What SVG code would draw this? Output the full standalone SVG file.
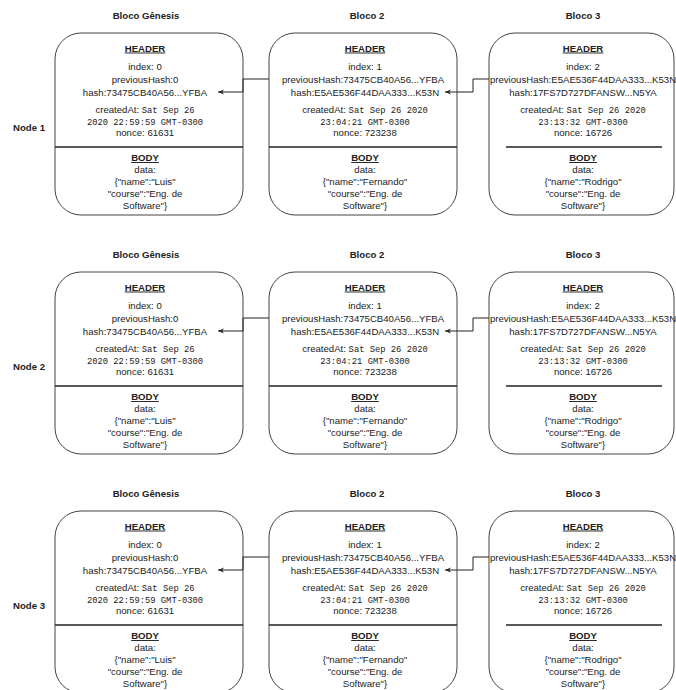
<svg xmlns="http://www.w3.org/2000/svg" width="676" height="690" viewBox="0 0 676 690">
<style>
text{font-family:"Liberation Sans",Arial,sans-serif;font-size:9.6px;fill:#222;text-anchor:middle}
.b{font-weight:bold}
.u{font-weight:bold;text-decoration:underline}
.m{font-family:"Liberation Mono","DejaVu Sans Mono",monospace;font-size:8.8px}
.box{fill:#fff;stroke:#444;stroke-width:1}
.div{stroke:#222;stroke-width:1.4;fill:none}
.con{stroke:#222;stroke-width:1;fill:none}
</style>
<defs>
<marker id="arr" viewBox="0 0 10 10" refX="10" refY="5" markerWidth="6" markerHeight="6" orient="auto" markerUnits="userSpaceOnUse">
<path d="M0,1 L10,5 L0,9 L3,5 z" fill="#222"/>
</marker>
</defs>
<rect width="676" height="690" fill="#fff"/>

<!-- Row 1 -->
<g id="row1">
<text class="b" x="29" y="130.5">Node 1</text>
<text class="b" x="146" y="19">Bloco Gênesis</text>
<text class="b" x="367" y="19">Bloco 2</text>
<text class="b" x="583" y="19">Bloco 3</text>
<g id="n1-genesis">
<rect class="box" x="55" y="33" width="188" height="182" rx="26"/>
<line class="div" x1="55" y1="147" x2="243" y2="147"/>
<text class="u" x="145" y="51.5">HEADER</text>
<text x="145" y="70">index: 0</text>
<text x="145" y="83">previousHash:0</text>
<text x="145" y="96">hash:73475CB40A56...YFBA</text>
<text x="145" y="113">createdAt: <tspan class="m">Sat Sep 26</tspan></text>
<text class="m" x="145" y="124.5">2020 22:59:59 GMT-0300</text>
<text x="145" y="136">nonce: 61631</text>
<text class="u" x="145" y="161">BODY</text>
<text x="145" y="172.5">data:</text>
<text x="145" y="184.5">{"name":"Luis"</text>
<text x="145" y="196.5">"course":"Eng. de</text>
<text x="145" y="208.5">Software"}</text>
</g>
<g id="n1-bloco2">
<rect class="box" x="269" y="33" width="188" height="182" rx="26"/>
<line class="div" x1="269" y1="147" x2="457" y2="147"/>
<text class="u" x="365" y="51.5">HEADER</text>
<text x="365" y="70">index: 1</text>
<text x="363" y="83">previousHash:73475CB40A56...YFBA</text>
<text x="365" y="96">hash:E5AE536F44DAA333...K53N</text>
<text x="365" y="113">createdAt: <tspan class="m">Sat Sep 26 2020</tspan></text>
<text class="m" x="365" y="124.5">23:04:21 GMT-0300</text>
<text x="365" y="136">nonce: 723238</text>
<text class="u" x="365" y="161">BODY</text>
<text x="365" y="172.5">data:</text>
<text x="365" y="184.5">{"name":"Fernando"</text>
<text x="365" y="196.5">"course":"Eng. de</text>
<text x="365" y="208.5">Software"}</text>
</g>
<g id="n1-bloco3">
<rect class="box" x="489" y="33" width="185" height="182" rx="26"/>
<line class="div" x1="506" y1="147" x2="662" y2="147"/>
<text class="u" x="583" y="51.5">HEADER</text>
<text x="583" y="70">index: 2</text>
<text x="583" y="83">previousHash:E5AE536F44DAA333...K53N</text>
<text x="583" y="96">hash:17FS7D727DFANSW...N5YA</text>
<text x="583" y="113">createdAt: <tspan class="m">Sat Sep 26 2020</tspan></text>
<text class="m" x="583" y="124.5">23:13:32 GMT-0300</text>
<text x="583" y="136">nonce: 16726</text>
<text class="u" x="583" y="161">BODY</text>
<text x="583" y="172.5">data:</text>
<text x="583" y="184.5">{"name":"Rodrigo"</text>
<text x="583" y="196.5">"course":"Eng. de</text>
<text x="583" y="208.5">Software"}</text>
</g>
<g id="n1-connectors">
<path class="con" d="M269,79 H243 V92 H218" marker-end="url(#arr)"/>
<path class="con" d="M489,79 H473 V92 H445" marker-end="url(#arr)"/>
</g>
</g>

<!-- Row 2 -->
<g id="row2" transform="translate(0,239)">
<text class="b" x="29" y="130.5">Node 2</text>
<text class="b" x="146" y="19">Bloco Gênesis</text>
<text class="b" x="367" y="19">Bloco 2</text>
<text class="b" x="583" y="19">Bloco 3</text>
<g id="n2-genesis">
<rect class="box" x="55" y="33" width="188" height="182" rx="26"/>
<line class="div" x1="55" y1="147" x2="243" y2="147"/>
<text class="u" x="145" y="51.5">HEADER</text>
<text x="145" y="70">index: 0</text>
<text x="145" y="83">previousHash:0</text>
<text x="145" y="96">hash:73475CB40A56...YFBA</text>
<text x="145" y="113">createdAt: <tspan class="m">Sat Sep 26</tspan></text>
<text class="m" x="145" y="124.5">2020 22:59:59 GMT-0300</text>
<text x="145" y="136">nonce: 61631</text>
<text class="u" x="145" y="161">BODY</text>
<text x="145" y="172.5">data:</text>
<text x="145" y="184.5">{"name":"Luis"</text>
<text x="145" y="196.5">"course":"Eng. de</text>
<text x="145" y="208.5">Software"}</text>
</g>
<g id="n2-bloco2">
<rect class="box" x="269" y="33" width="188" height="182" rx="26"/>
<line class="div" x1="269" y1="147" x2="457" y2="147"/>
<text class="u" x="365" y="51.5">HEADER</text>
<text x="365" y="70">index: 1</text>
<text x="363" y="83">previousHash:73475CB40A56...YFBA</text>
<text x="365" y="96">hash:E5AE536F44DAA333...K53N</text>
<text x="365" y="113">createdAt: <tspan class="m">Sat Sep 26 2020</tspan></text>
<text class="m" x="365" y="124.5">23:04:21 GMT-0300</text>
<text x="365" y="136">nonce: 723238</text>
<text class="u" x="365" y="161">BODY</text>
<text x="365" y="172.5">data:</text>
<text x="365" y="184.5">{"name":"Fernando"</text>
<text x="365" y="196.5">"course":"Eng. de</text>
<text x="365" y="208.5">Software"}</text>
</g>
<g id="n2-bloco3">
<rect class="box" x="489" y="33" width="185" height="182" rx="26"/>
<line class="div" x1="506" y1="147" x2="662" y2="147"/>
<text class="u" x="583" y="51.5">HEADER</text>
<text x="583" y="70">index: 2</text>
<text x="583" y="83">previousHash:E5AE536F44DAA333...K53N</text>
<text x="583" y="96">hash:17FS7D727DFANSW...N5YA</text>
<text x="583" y="113">createdAt: <tspan class="m">Sat Sep 26 2020</tspan></text>
<text class="m" x="583" y="124.5">23:13:32 GMT-0300</text>
<text x="583" y="136">nonce: 16726</text>
<text class="u" x="583" y="161">BODY</text>
<text x="583" y="172.5">data:</text>
<text x="583" y="184.5">{"name":"Rodrigo"</text>
<text x="583" y="196.5">"course":"Eng. de</text>
<text x="583" y="208.5">Software"}</text>
</g>
<g id="n2-connectors">
<path class="con" d="M269,79 H243 V92 H218" marker-end="url(#arr)"/>
<path class="con" d="M489,79 H473 V92 H445" marker-end="url(#arr)"/>
</g>
</g>

<!-- Row 3 -->
<g id="row3" transform="translate(0,478)">
<text class="b" x="29" y="130.5">Node 3</text>
<text class="b" x="146" y="19">Bloco Gênesis</text>
<text class="b" x="367" y="19">Bloco 2</text>
<text class="b" x="583" y="19">Bloco 3</text>
<g id="n3-genesis">
<rect class="box" x="55" y="33" width="188" height="182" rx="26"/>
<line class="div" x1="55" y1="147" x2="243" y2="147"/>
<text class="u" x="145" y="51.5">HEADER</text>
<text x="145" y="70">index: 0</text>
<text x="145" y="83">previousHash:0</text>
<text x="145" y="96">hash:73475CB40A56...YFBA</text>
<text x="145" y="113">createdAt: <tspan class="m">Sat Sep 26</tspan></text>
<text class="m" x="145" y="124.5">2020 22:59:59 GMT-0300</text>
<text x="145" y="136">nonce: 61631</text>
<text class="u" x="145" y="161">BODY</text>
<text x="145" y="172.5">data:</text>
<text x="145" y="184.5">{"name":"Luis"</text>
<text x="145" y="196.5">"course":"Eng. de</text>
<text x="145" y="208.5">Software"}</text>
</g>
<g id="n3-bloco2">
<rect class="box" x="269" y="33" width="188" height="182" rx="26"/>
<line class="div" x1="269" y1="147" x2="457" y2="147"/>
<text class="u" x="365" y="51.5">HEADER</text>
<text x="365" y="70">index: 1</text>
<text x="363" y="83">previousHash:73475CB40A56...YFBA</text>
<text x="365" y="96">hash:E5AE536F44DAA333...K53N</text>
<text x="365" y="113">createdAt: <tspan class="m">Sat Sep 26 2020</tspan></text>
<text class="m" x="365" y="124.5">23:04:21 GMT-0300</text>
<text x="365" y="136">nonce: 723238</text>
<text class="u" x="365" y="161">BODY</text>
<text x="365" y="172.5">data:</text>
<text x="365" y="184.5">{"name":"Fernando"</text>
<text x="365" y="196.5">"course":"Eng. de</text>
<text x="365" y="208.5">Software"}</text>
</g>
<g id="n3-bloco3">
<rect class="box" x="489" y="33" width="185" height="182" rx="26"/>
<line class="div" x1="506" y1="147" x2="662" y2="147"/>
<text class="u" x="583" y="51.5">HEADER</text>
<text x="583" y="70">index: 2</text>
<text x="583" y="83">previousHash:E5AE536F44DAA333...K53N</text>
<text x="583" y="96">hash:17FS7D727DFANSW...N5YA</text>
<text x="583" y="113">createdAt: <tspan class="m">Sat Sep 26 2020</tspan></text>
<text class="m" x="583" y="124.5">23:13:32 GMT-0300</text>
<text x="583" y="136">nonce: 16726</text>
<text class="u" x="583" y="161">BODY</text>
<text x="583" y="172.5">data:</text>
<text x="583" y="184.5">{"name":"Rodrigo"</text>
<text x="583" y="196.5">"course":"Eng. de</text>
<text x="583" y="208.5">Software"}</text>
</g>
<g id="n3-connectors">
<path class="con" d="M269,79 H243 V92 H218" marker-end="url(#arr)"/>
<path class="con" d="M489,79 H473 V92 H445" marker-end="url(#arr)"/>
</g>
</g>
</svg>
